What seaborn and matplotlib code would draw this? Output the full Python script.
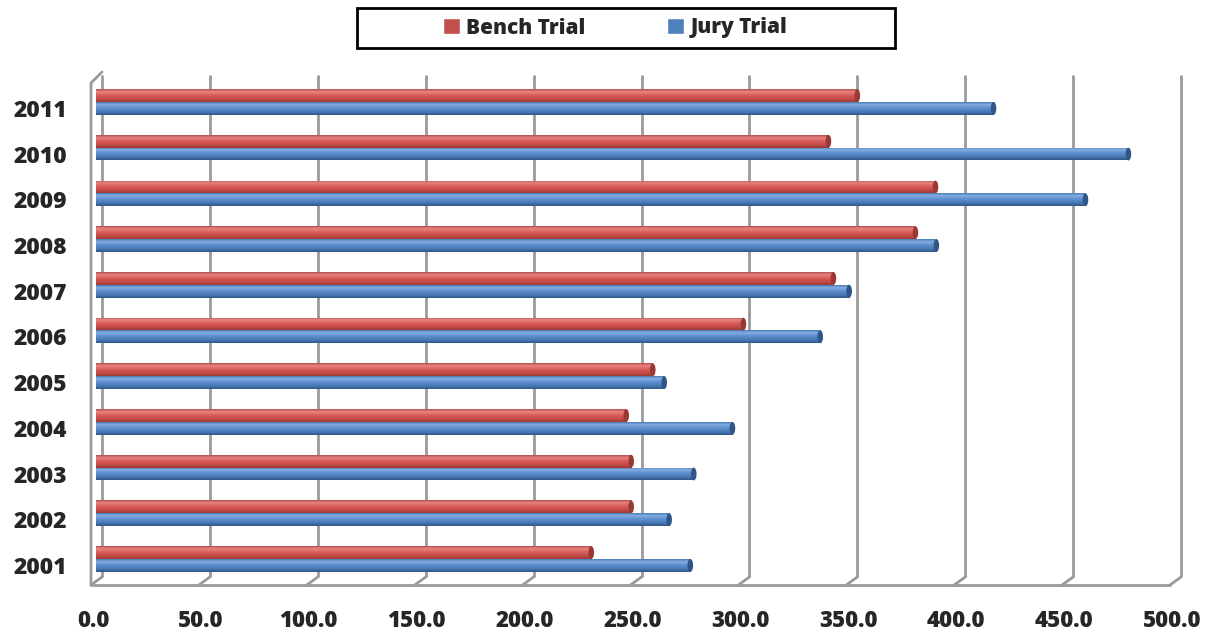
import numpy as np
import pandas as pd
import matplotlib
matplotlib.use("Agg")
import matplotlib.pyplot as plt
import matplotlib.transforms as mtransforms
from matplotlib.patches import Rectangle, Ellipse
from matplotlib.colors import to_rgb, to_hex
import seaborn as sns

years = ["2011", "2010", "2009", "2008", "2007", "2006", "2005", "2004", "2003", "2002", "2001"]
bench_trial = [352.8, 339.4, 389.0, 379.7, 341.7, 300.0, 258.0, 245.7, 248.0, 248.0, 229.5]
jury_trial = [415.9, 478.4, 458.5, 389.4, 349.0, 335.6, 263.3, 294.9, 277.0, 265.6, 275.4]
series = ["Bench Trial", "Jury Trial"]
x_ticks = [0, 50, 100, 150, 200, 250, 300, 350, 400, 450, 500]

colors = {"Bench Trial": "#C0504D", "Jury Trial": "#4F81BD"}
# top-to-bottom colour stops for the cylinder look
cyl_stops = {
    "#c0504d": ["#B4504D", "#E88380", "#DE6764", "#D0524F", "#BF4A47", "#9A3835"],
    "#4f81bd": ["#4B7CB8", "#86AEE2", "#6494D1", "#5285C4", "#4676B1", "#2F5687"],
}

df = pd.DataFrame({
    "Year": years * 2,
    "Value": bench_trial + jury_trial,
    "Series": [series[0]] * len(years) + [series[1]] * len(years),
})

sns.set_style("white")
plt.rcParams["font.family"] = ["Open Sans", "DejaVu Sans"]
FW = "heavy"

W, H = 1210, 633
fig = plt.figure(figsize=(W / 100, H / 100), dpi=100)
ax_l, ax_r, ax_t, ax_b = 96, 1175, 78, 580
ax = fig.add_axes([ax_l / W, 1 - ax_b / H, (ax_r - ax_l) / W, (ax_b - ax_t) / H])

sns.barplot(data=df, y="Year", x="Value", hue="Series", order=years,
            hue_order=series, palette=colors, orient="h", width=0.56,
            dodge=True, legend=False, ax=ax, zorder=3, linewidth=0, saturation=1)

ax.set_xlim(0, 500)
ax.set_ylim(10.46, -0.525)


def px_offset(dx, dy):
    # shift in image pixels (dy positive = downward)
    return mtransforms.ScaledTranslation(dx / 100, -dy / 100, fig.dpi_scale_trans)


def gradient(stops, n=40):
    rgb = np.array([to_rgb(c) for c in stops])
    pos = np.linspace(0, 1, len(stops))
    t = np.linspace(0, 1, n)
    return np.stack([np.interp(t, pos, rgb[:, k]) for k in range(3)], axis=1)[:, None, :]


for patch in list(ax.patches):
    key = to_hex(patch.get_facecolor()[:3])
    stops = cyl_stops[key]
    x0, y0 = patch.get_x(), patch.get_y()
    w, h = patch.get_width(), patch.get_height()
    im = ax.imshow(gradient(stops), extent=(x0, x0 + w, y0 + h, y0), origin="upper",
                   aspect="auto", interpolation="bilinear", zorder=4)
    im.set_clip_path(patch)
    cap = Ellipse((x0 + w, y0 + h / 2), width=2.6, height=h,
                  facecolor=stops[-1], edgecolor="none", zorder=5)
    ax.add_patch(cap)

ax.set_xlim(0, 500)
ax.set_ylim(10.46, -0.525)

# 3D-style back wall, floor and side wall
grid_c = "#9A9A9A"
blend = mtransforms.blended_transform_factory(ax.transData, ax.transAxes)
for v in x_ticks:
    ax.plot([v, v], [0.006, 1.006], color=grid_c, lw=2, transform=blend + px_offset(6, 0),
            zorder=1, clip_on=False, solid_capstyle="butt")
floor_front = blend + px_offset(-5, 5)
floor_back = blend + px_offset(6, -3)
ax.plot([0, 500], [0, 0], color=grid_c, lw=2, transform=floor_front, clip_on=False, zorder=1)
inv = fig.transFigure.inverted()
for v in x_ticks:
    q0 = inv.transform(floor_front.transform((v, 0)))
    q1 = inv.transform(floor_back.transform((v, 0)))
    fig.add_artist(plt.Line2D([q0[0], q1[0]], [q0[1], q1[1]], color=grid_c, lw=2,
                              transform=fig.transFigure, zorder=1))
a = inv.transform(floor_front.transform((0, 0)))
b = inv.transform(floor_front.transform((0, 1)))
c = inv.transform(floor_back.transform((0, 1.006)))
fig.add_artist(plt.Line2D([a[0], b[0], c[0]], [a[1], b[1], c[1]], color=grid_c, lw=2,
                          transform=fig.transFigure, zorder=1))

for s in ax.spines.values():
    s.set_visible(False)

ax.set_xticks(x_ticks)
ax.set_xticklabels([f"{v:.1f}" for v in x_ticks], fontsize=16, fontweight=FW)
ax.set_yticks(range(len(years)))
ax.set_yticklabels(years, fontsize=16.5, fontweight=FW)
ax.tick_params(axis="x", length=0, pad=21)
ax.tick_params(axis="y", length=0, pad=20.5)
for lab in ax.get_yticklabels():
    lab.set_transform(lab.get_transform() + px_offset(0, 6))
for lab in ax.get_xticklabels():
    lab.set_transform(lab.get_transform() + px_offset(-3, 0))
ax.set_xlabel("")
ax.set_ylabel("")

# legend box
fig.add_artist(Rectangle((357 / W, 1 - 48 / H), 538 / W, 40 / H, transform=fig.transFigure,
                         facecolor="white", edgecolor="black", lw=2, zorder=1))
handles = [Rectangle((0, 0), 1, 1, facecolor=colors[s]) for s in series]
leg = fig.legend(handles, series, loc="center", bbox_to_anchor=(615 / W, 1 - 28 / H), ncol=2,
                 frameon=False, prop={"weight": FW, "size": 15}, handlelength=0.8,
                 handleheight=0.8, handletextpad=0.3, columnspacing=3.95)
leg.set_zorder(20)

fig.savefig("out.png", dpi=100)
